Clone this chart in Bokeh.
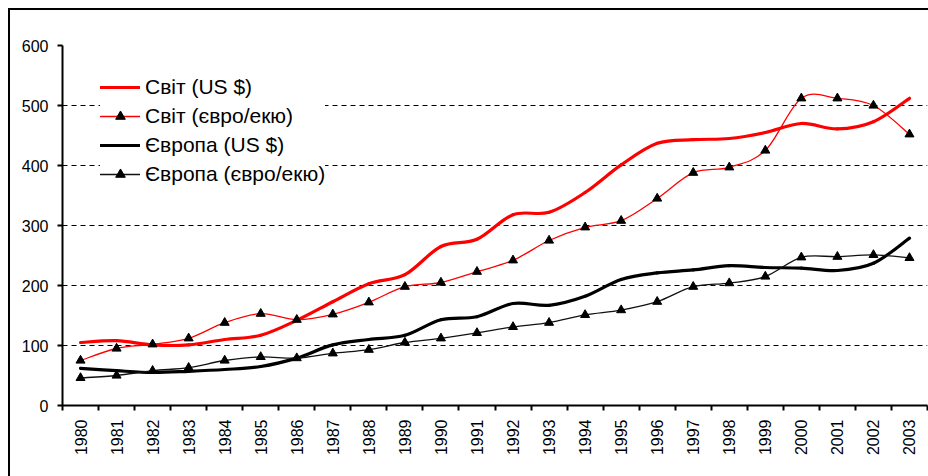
import numpy as np
from bokeh.plotting import figure
from bokeh.models import Range1d, FixedTicker, Legend, LegendItem, ColumnDataSource
from bokeh.embed import file_html
from bokeh.resources import INLINE

years = list(range(1980, 2004))
world_usd = [105, 108, 101, 101, 110, 117, 142, 173, 203, 218, 265, 277,
             318, 322, 355, 401, 437, 443, 445, 455, 470, 461, 473, 512]
world_eur = [75, 95, 102, 112, 138, 153, 143, 152, 172, 198, 205, 223,
             242, 275, 297, 308, 345, 388, 397, 425, 512, 512, 500, 452]
europe_usd = [62, 58, 55, 57, 60, 65, 79, 101, 110, 117, 143, 148,
              170, 167, 182, 210, 221, 226, 233, 230, 229, 225, 237, 279]
europe_eur = [46, 50, 58, 63, 75, 81, 79, 87, 93, 105, 112, 121,
              131, 138, 151, 159, 173, 198, 204, 215, 247, 248, 251, 246]
y_ticks = [0, 100, 200, 300, 400, 500, 600]
labels = ["Світ (US $)", "Світ (євро/екю)", "Європа (US $)", "Європа (євро/екю)"]

FONT = "Liberation Sans"


def smooth_source(xs, ys):
    """Bezier control points (Catmull-Rom style smoothing, like a 'smoothed line')."""
    x = np.asarray(xs, dtype=float)
    y = np.asarray(ys, dtype=float)
    n = len(x)
    qx = np.concatenate([[x[0]], x, [x[-1]]])
    qy = np.concatenate([[y[0]], y, [y[-1]]])
    t = 6.0
    return ColumnDataSource(dict(
        x0=x[:-1], y0=y[:-1], x1=x[1:], y1=y[1:],
        cx0=qx[1:n] + (qx[2:n + 1] - qx[0:n - 1]) / t,
        cy0=qy[1:n] + (qy[2:n + 1] - qy[0:n - 1]) / t,
        cx1=qx[2:n + 1] - (qx[3:n + 2] - qx[1:n]) / t,
        cy1=qy[2:n + 1] - (qy[3:n + 2] - qy[1:n]) / t,
    ))


W, H = 928, 476
ML, MT, FH = 62, 45, 360
p = figure(width=W, height=H,
           x_range=Range1d(1979.5, 2003.5), y_range=Range1d(0, 600),
           output_backend="svg", toolbar_location=None,
           min_border_left=ML, min_border_right=1, min_border_top=MT,
           min_border_bottom=H - MT - FH,
           background_fill_color="white", border_fill_color=None,
           outline_line_color=None)

# outer chart frame (only its left and top edges fall inside the picture)
p.stylesheets = [
    ":host { background:"
    " linear-gradient(#000, #000) 8px 8px / 2px 100% no-repeat,"
    " linear-gradient(#000, #000) 8px 8px / 100% 2px no-repeat, #fff; }"
]

# grid
p.xgrid.grid_line_color = None
p.ygrid.ticker = FixedTicker(ticks=y_ticks)
p.ygrid.grid_line_color = "black"
p.ygrid.grid_line_dash = "5 4"
p.ygrid.grid_line_width = 1

# y axis
p.yaxis.ticker = FixedTicker(ticks=y_ticks)
p.yaxis.axis_line_width = 2
p.yaxis.axis_line_color = "black"
p.yaxis.major_tick_out = 5
p.yaxis.major_tick_in = 0
p.yaxis.major_tick_line_width = 2
p.yaxis.major_tick_line_color = "black"
p.yaxis.minor_tick_line_color = None
p.yaxis.major_label_standoff = 9
p.yaxis.major_label_text_font = FONT
p.yaxis.major_label_text_font_size = "16px"
p.yaxis.major_label_text_color = "black"

# x axis: labels at centres, ticks at category boundaries
boundaries = [years[0] - 0.5 + k for k in range(len(years) + 1)]
p.xaxis.ticker = FixedTicker(ticks=years, minor_ticks=boundaries)
p.xaxis.major_label_overrides = {yr: str(yr) for yr in years}
p.xaxis.axis_line_width = 2
p.xaxis.axis_line_color = "black"
p.xaxis.major_tick_line_color = None
p.xaxis.major_tick_out = 5
p.xaxis.major_tick_in = 0
p.xaxis.minor_tick_out = 5
p.xaxis.minor_tick_in = 0
p.xaxis.minor_tick_line_width = 2
p.xaxis.minor_tick_line_color = "black"
p.xaxis.major_label_orientation = np.pi / 2
p.xaxis.major_label_standoff = 9
p.xaxis.major_label_text_font = FONT
p.xaxis.major_label_text_font_size = "16px"
p.xaxis.major_label_text_color = "black"

# series
RED = "#ff0000"
bz = dict(x0="x0", y0="y0", x1="x1", y1="y1", cx0="cx0", cy0="cy0", cx1="cx1", cy1="cy1",
          line_cap="round")
r1 = p.bezier(source=smooth_source(years, world_usd), line_color=RED, line_width=3.2, **bz)
r3 = p.bezier(source=smooth_source(years, europe_usd), line_color="black", line_width=3.2, **bz)
r2 = p.bezier(source=smooth_source(years, world_eur), line_color=RED, line_width=1.3, **bz)
r4 = p.bezier(source=smooth_source(years, europe_eur), line_color="#111111", line_width=1.3, **bz)
m2 = p.scatter(years, world_eur, marker="triangle", size=9, color="black")
m4 = p.scatter(years, europe_eur, marker="triangle", size=9, color="black")

legend = Legend(items=[
    LegendItem(label=labels[0], renderers=[r1]),
    LegendItem(label=labels[1], renderers=[r2, m2]),
    LegendItem(label=labels[2], renderers=[r3]),
    LegendItem(label=labels[3], renderers=[r4, m4]),
], location=(38, 219), orientation="vertical",
    label_text_font=FONT, label_text_font_size="21px", label_text_color="black",
    glyph_width=40, glyph_height=24, label_height=24, spacing=5,
    padding=8, margin=0, label_standoff=5,
    border_line_color=None, background_fill_color="white", background_fill_alpha=1.0)
p.add_layout(legend)

open("out.html", "w").write(file_html(p, INLINE))
